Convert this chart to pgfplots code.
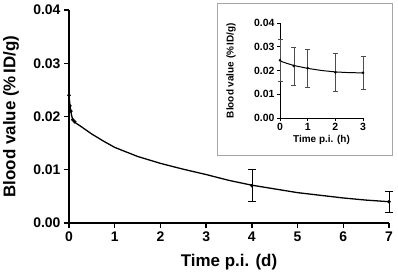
\documentclass[border=0pt]{standalone}
\usepackage{fontspec}
\setmainfont{Liberation Sans}
\usepackage{pgfplots}
\pgfplotsset{compat=1.18}

\begin{document}
\begin{tikzpicture}[font=\bfseries]
\path[use as bounding box] (-69bp,-51bp) rectangle (329bp,223bp);
\begin{axis}[
  at={(0,0)}, anchor=south west,
  scale only axis,
  width=320bp, height=213bp,
  xmin=0, xmax=7, ymin=0, ymax=0.04,
  axis x line*=bottom, axis y line*=left,
  axis line style={-, line width=1.3pt},
  tick style={line width=1.3pt, black},
  tick align=outside, major tick length=5bp,
  xtick={0,1,2,3,4,5,6,7},
  ytick={0,0.01,0.02,0.03,0.04},
  scaled y ticks=false,
  yticklabel style={/pgf/number format/fixed, /pgf/number format/fixed zerofill,
    /pgf/number format/precision=2},
  /pgf/number format/assume math mode=true,
  tick label style={font=\fontsize{14}{14}\selectfont\bfseries},
  xlabel={Time p.i. (d)}, ylabel={Blood value (\%\,ID/g)},
  every axis x label/.style={at={(rel axis cs:0.5,-0.183)}, anchor=center,
    font=\fontsize{17}{17}\selectfont\bfseries},
  every axis y label/.style={at={(rel axis cs:-0.181,0.5)}, anchor=center, rotate=90,
    font=\fontsize{17}{17}\selectfont\bfseries},
  clip=false,
]
\addplot[black, line width=1.3pt] coordinates {
  (0,0.0240) (0.0104,0.0231) (0.0208,0.0222) (0.0313,0.0215) (0.0417,0.0209)
  (0.0625,0.0200) (0.0833,0.0194) (0.104,0.0191) (0.125,0.0189)
  (0.25,0.0182) (0.5,0.0167) (0.75,0.0154) (1,0.0142) (1.5,0.0125)
  (2,0.0112) (2.5,0.0101) (3,0.0091) (3.5,0.0080) (4,0.0071)
  (4.5,0.0064) (5,0.0057) (5.5,0.0052) (6,0.0047) (6.5,0.0043) (7,0.0040)};
\addplot[black, only marks, mark=*, mark size=1.6pt] coordinates {
  (0,0.024) (0.0208,0.022) (0.0417,0.021) (0.0833,0.0194) (0.125,0.019)};
\addplot[black, only marks, mark=*, mark size=1.6pt,
  error bars/.cd, y dir=both, y explicit,
  error bar style={line width=0.7pt, black},
  error mark options={rotate=90, mark size=4bp, line width=0.7pt, black}]
  coordinates {
  (4,0.007) +- (0,0.003)
  (7,0.004) +- (0,0.002)};
\end{axis}

\draw[black!35, fill=white, line width=0.8pt] (148bp,68bp) rectangle (323bp,220bp);

\begin{axis}[
  at={(211bp,105bp)}, anchor=south west,
  scale only axis,
  width=83bp, height=95bp,
  xmin=0, xmax=3, ymin=0, ymax=0.04,
  axis x line*=bottom, axis y line*=left,
  axis line style={-, line width=0.9pt},
  tick style={line width=0.9pt, black},
  tick align=outside, major tick length=3bp,
  xtick={0,1,2,3},
  ytick={0,0.01,0.02,0.03,0.04},
  scaled y ticks=false,
  yticklabel style={/pgf/number format/fixed, /pgf/number format/fixed zerofill,
    /pgf/number format/precision=2, xshift=1bp},
  /pgf/number format/assume math mode=true,
  tick label style={font=\fontsize{10.5}{10.5}\selectfont\bfseries},
  xticklabel style={yshift=1bp},
  xlabel={Time p.i. (h)}, ylabel={Blood value (\%\,ID/g)},
  every axis x label/.style={at={(rel axis cs:0.5,-0.232)}, anchor=center,
    font=\fontsize{10}{10}\selectfont\bfseries},
  every axis y label/.style={at={(rel axis cs:-0.59,0.5)}, anchor=center, rotate=90,
    font=\fontsize{10}{10}\selectfont\bfseries},
  clip=false,
]
\addplot[black, line width=1pt] coordinates {
  (0,0.0240) (0.25,0.0230) (0.5,0.0221) (0.75,0.0215) (1,0.0209)
  (1.5,0.0200) (2,0.0194) (2.5,0.0191) (3,0.0190)};
\addplot[black, only marks, mark=*, mark size=1.1pt,
  error bars/.cd, y dir=both, y explicit,
  error bar style={line width=0.5pt, black!70},
  error mark options={rotate=90, mark size=2.5bp, line width=0.5pt, black!70}]
  coordinates {
  (0,0.0243) +- (0,0.009)
  (0.5,0.0219) +- (0,0.008)
  (1,0.021) +- (0,0.008)
  (2,0.0192) +- (0,0.008)
  (3,0.0191) +- (0,0.007)};
\end{axis}
\end{tikzpicture}
\end{document}
